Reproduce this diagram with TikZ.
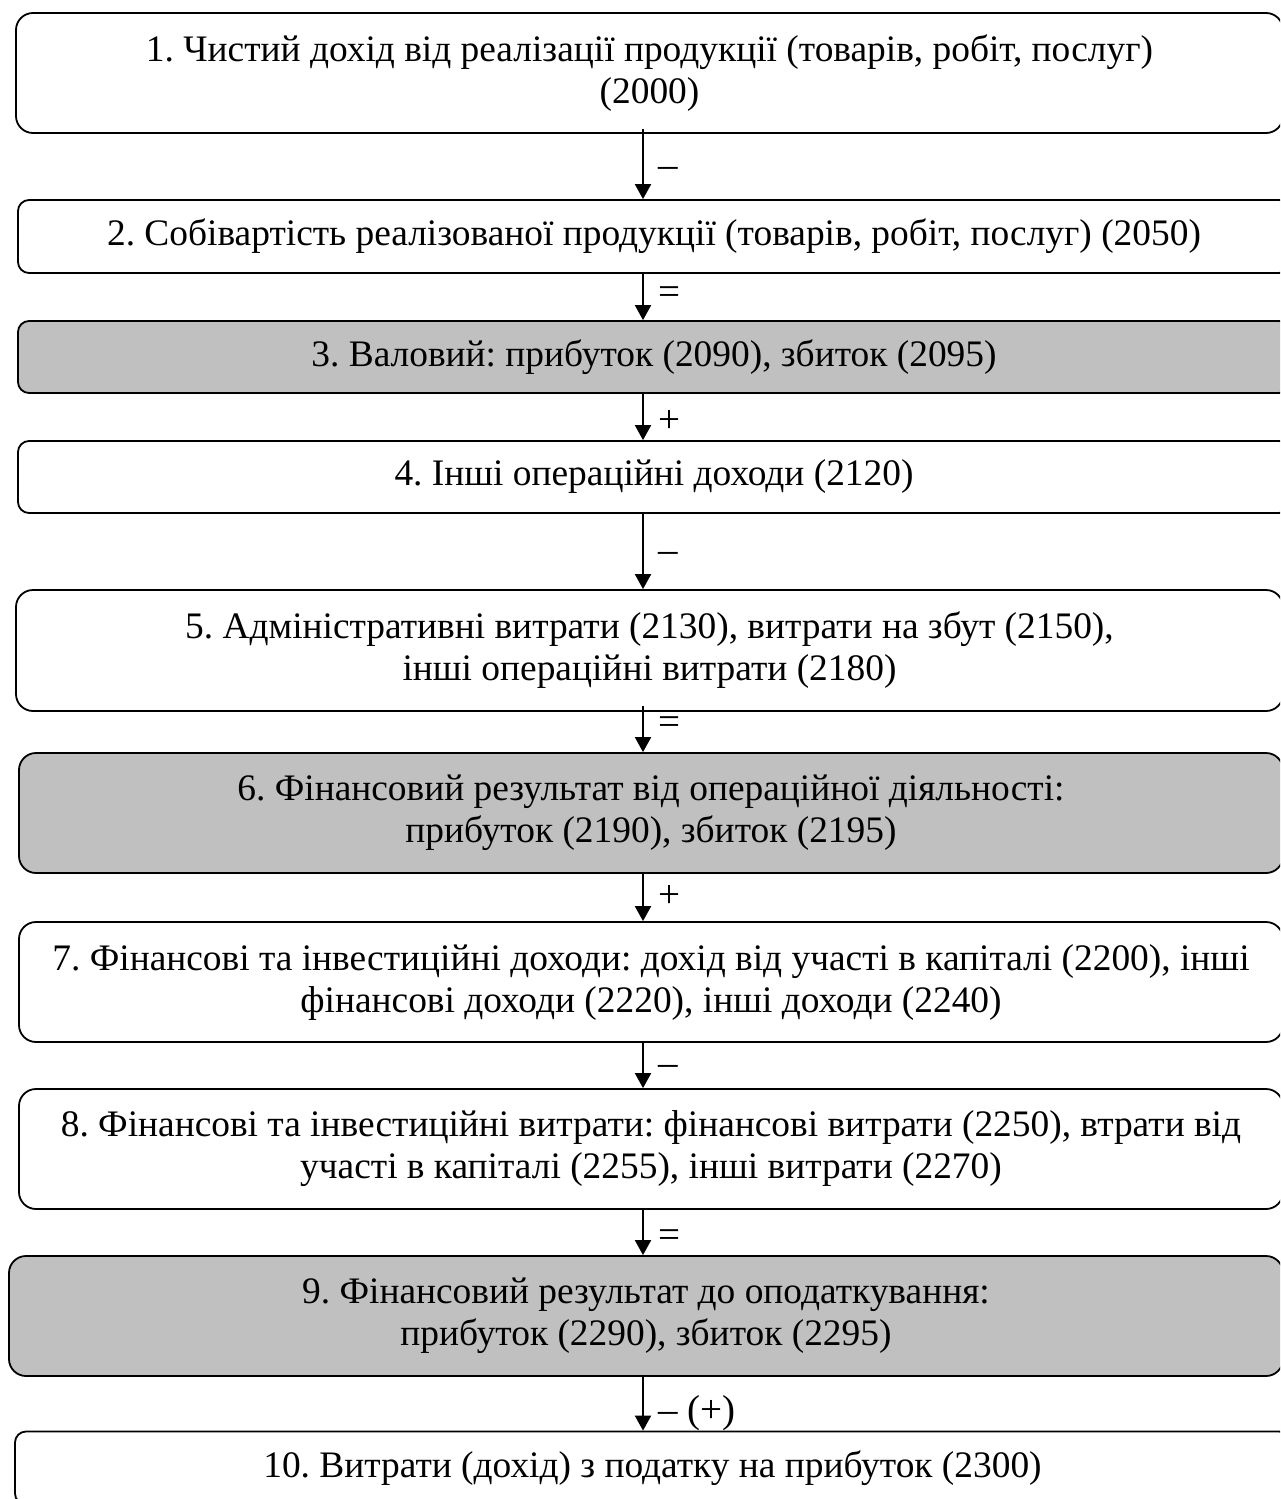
\documentclass[tikz,border=0pt]{standalone}
\usepackage{fontspec}
\setmainfont{Liberation Serif}
\usetikzlibrary{arrows.meta}
\definecolor{boxgray}{HTML}{C0C0C0}
\frenchspacing
\tikzset{
  box/.style={draw, line width=0.9pt, rounded corners=8.5pt, minimum height=60pt,
    inner sep=0pt, align=center, font=\fontsize{18.7pt}{21pt}\selectfont},
  lowbox/.style={box, rounded corners=5.5pt, minimum height=36.5pt},
  shaded/.style={fill=boxgray},
  arr/.style={line width=1pt, -{Triangle[width=8pt,length=7.5pt]}},
  sign/.style={anchor=base west, inner sep=0pt, font=\fontsize{19.5pt}{21pt}\selectfont},
}
\begin{document}
\begin{tikzpicture}[x=0.5pt,y=-0.5pt]
\useasboundingbox (0,0) rectangle (1280,1499);
\clip (0,0) rectangle (1280,1499);
\coordinate (ax) at (643,0);

\node[box, minimum width=633.5pt] (b1) at (649.5,73)
  {1. Чистий дохід від реалізації продукції (товарів, робіт, послуг)\\(2000)};
\node[lowbox, minimum width=636pt] (b2) at (654,236.5)
  {2. Собівартість реалізованої продукції (товарів, робіт, послуг) (2050)};
\node[lowbox, shaded, minimum width=636pt, minimum height=36pt] (b3) at (654,357)
  {3. Валовий: прибуток (2090), збиток (2095)};
\node[lowbox, minimum width=636pt, minimum height=36pt] (b4) at (654,477)
  {4. Інші операційні доходи (2120)};
\node[box, minimum width=633.5pt, minimum height=60.5pt] (b5) at (649.5,650.5)
  {5. Адміністративні витрати (2130), витрати на збут (2150),\\інші операційні витрати (2180)};
\node[box, shaded, minimum width=632pt] (b6) at (651,813)
  {6. Фінансовий результат від операційної діяльності:\\прибуток (2190), збиток (2195)};
\node[box, minimum width=632pt] (b7) at (651,982)
  {7. Фінансові та інвестиційні доходи: дохід від участі в капіталі (2200), інші\\фінансові доходи (2220), інші доходи (2240)};
\node[box, minimum width=632pt] (b8) at (651,1149)
  {8. Фінансові та інвестиційні витрати: фінансові витрати (2250), втрати від\\участі в капіталі (2255), інші витрати (2270)};
\node[box, shaded, minimum width=637pt] (b9) at (646,1316)
  {9. Фінансовий результат до оподаткування:\\прибуток (2290), збиток (2295)};
\node[lowbox, minimum width=637.5pt] (b10) at (652.5,1468)
  {10. Витрати (дохід) з податку на прибуток (2300)};

\draw[arr] ([yshift=2.5pt]b1.south -| ax) -- (b2.north -| ax);
\draw[arr] (b2.south -| ax) -- (b3.north -| ax);
\draw[arr] (b3.south -| ax) -- (b4.north -| ax);
\draw[arr] (b4.south -| ax) -- (b5.north -| ax);
\draw[arr] ([yshift=3pt]b5.south -| ax) -- (b6.north -| ax);
\draw[arr] (b6.south -| ax) -- (b7.north -| ax);
\draw[arr] (b7.south -| ax) -- (b8.north -| ax);
\draw[arr] (b8.south -| ax) -- (b9.north -| ax);
\draw[arr] (b9.south -| ax) -- (b10.north -| ax);

\node[sign] (s1) at (658,177) {–};
\node[sign] (s2) at (658,304) {=};
\node[sign] (s3) at (658,432) {+};
\node[sign] (s4) at (658,562) {–};
\node[sign] (s5) at (658,734) {=};
\node[sign] (s6) at (658,907) {+};
\node[sign] (s7) at (658,1075) {–};
\node[sign] (s8) at (658,1247) {=};
\node[sign] (s9) at (658,1422) {– (+)};
\end{tikzpicture}
\end{document}
